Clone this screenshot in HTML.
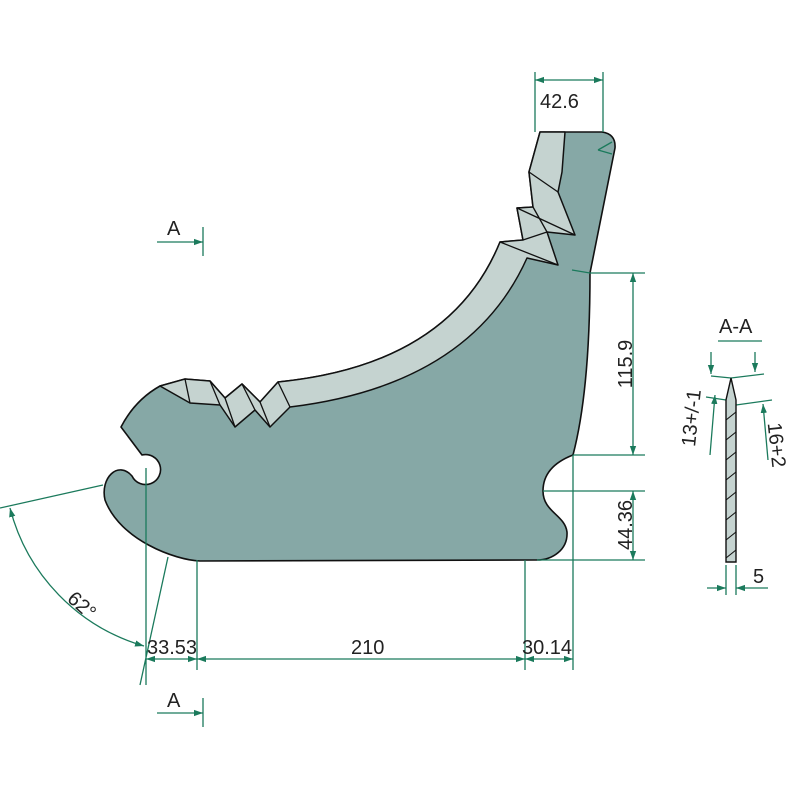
<!DOCTYPE html>
<html><head><meta charset="utf-8"><style>
html,body{margin:0;padding:0;background:#fff;}
svg{display:block;}
text{font-family:"Liberation Sans",sans-serif;fill:#222;font-size:20px;}
</style></head><body>
<svg width="800" height="800" viewBox="0 0 800 800" xmlns="http://www.w3.org/2000/svg">
<defs>
<marker id="ar" viewBox="0 0 10 10" refX="10" refY="5" markerWidth="9" markerHeight="9" orient="auto-start-reverse" markerUnits="userSpaceOnUse"><path d="M0,1.5 L10,5 L0,8.5 Z" fill="#1b7a5c"/></marker>
</defs>
<path d="M540,132 L602,132 Q616,134 615,148 L590,273 Q590,390 573,455 C560,460 543,470 543,491 C543,512 565,515 567,532 C568,550 552,560 537,560 L200,561 C175,560 120,540 105,500 C100,478 118,460 132,476 A15,15 0 1 0 142,455 L121,427 Q135,400 160,386 L185,379 L210,381 L225,398 L242,384 L260,402 L278,382 Q450,365 500,242 L523,240 L517,208 L533,207 L529,172 Z" fill="#86a8a6" stroke="#111" stroke-width="1.6" stroke-linejoin="round"/>
<path d="M540,132 L565,132 L562,172 L558,192 L575,235 L547,232 L558,265 L527,258 Q470,385 290,407 L270,427 L255,410 L235,427 L220,405 L190,403 L160,386 L185,379 L210,381 L225,398 L242,384 L260,402 L278,382 Q450,365 500,242 L523,240 L517,208 L533,207 L529,172 Z" fill="#c5d3d0" stroke="#111" stroke-width="1.5" stroke-linejoin="round"/>
<g stroke="#111" stroke-width="1.3" fill="none">
<path d="M529,172 L558,192 M517,208 L575,235 M533,207 L547,232 M500,242 L558,265 M523,240 L547,232"/>
<path d="M185,379 L190,403 M210,381 L220,405 M225,398 L235,427 M242,384 L255,410 M260,402 L270,427 M278,382 L290,407"/>
</g>
<g stroke="#1b7a5c" stroke-width="1.3" fill="none">
<path d="M535,72 V132 M603,72 V132"/>
<path d="M535,80 H603" marker-start="url(#ar)" marker-end="url(#ar)"/>
<path d="M598,150 L612,142 M598,150 L612,154"/>
<path d="M572,270 L590,273 H645 M573,455 H645 M543,491 H645 M537,560 H645"/>
<path d="M633,273 V455" marker-start="url(#ar)" marker-end="url(#ar)"/>
<path d="M633,491 V560" marker-start="url(#ar)" marker-end="url(#ar)"/>
<path d="M146,468 V685 M197,560 V670 M525,560 V670 M573,455 V670 M168,557 L140,685"/>
<path d="M146,659 H197" marker-start="url(#ar)" marker-end="url(#ar)"/>
<path d="M197,659 H525" marker-start="url(#ar)" marker-end="url(#ar)"/>
<path d="M525,659 H573" marker-start="url(#ar)" marker-end="url(#ar)"/>
<path d="M0,508 L103,485"/>
<path d="M10,508 A194,194 0 0 0 144,646" marker-start="url(#ar)" marker-end="url(#ar)"/>
<path d="M157,242 H203" marker-end="url(#ar)"/><path d="M203,227 V256"/>
<path d="M157,713 H203" marker-end="url(#ar)"/><path d="M203,698 V727"/>
<path d="M718,341 H762"/>
<path d="M711,376 L731,378 L764,374 M706,397 L726,400 M736,405 L772,400"/>
<path d="M711,352 V374" marker-end="url(#ar)"/>
<path d="M755,352 V372" marker-end="url(#ar)"/>
<path d="M710,455 L715,395" marker-end="url(#ar)"/>
<path d="M768,460 L763,404" marker-end="url(#ar)"/>
<path d="M726,565 V595 M736,565 V595"/>
<path d="M707,588 H726" marker-end="url(#ar)"/>
<path d="M768,588 H736" marker-end="url(#ar)"/>
</g>
<path d="M726,562 L726,400 L731,378 L736,400 L736,562 Z" fill="#c5d3d0" stroke="#111" stroke-width="1.4"/>
<path d="M726,420 L736,412 M726,440 L736,432 M726,460 L736,452 M726,480 L736,472 M726,500 L736,492 M726,520 L736,512 M726,540 L736,532 M726,558 L736,550" stroke="#111" stroke-width="1.1"/>
<text x="540" y="108">42.6</text>
<text x="625" y="364" text-anchor="middle" transform="rotate(-90 625 364)" dy="7">115.9</text>
<text x="625" y="525" text-anchor="middle" transform="rotate(-90 625 525)" dy="7">44.36</text>
<text x="147" y="654">33.53</text>
<text x="351" y="654">210</text>
<text x="522" y="654">30.14</text>
<text x="82" y="612" text-anchor="middle" transform="rotate(42 82 605)">62°</text>
<text x="167" y="235">A</text>
<text x="167" y="707">A</text>
<text x="719" y="333">A-A</text>
<text x="692" y="418" text-anchor="middle" transform="rotate(-84 692 418)" dy="6">13+/-1</text>
<text x="776" y="445" text-anchor="middle" transform="rotate(84 776 445)" dy="6">16+2</text>
<text x="753" y="583">5</text>
</svg>
</body></html>
